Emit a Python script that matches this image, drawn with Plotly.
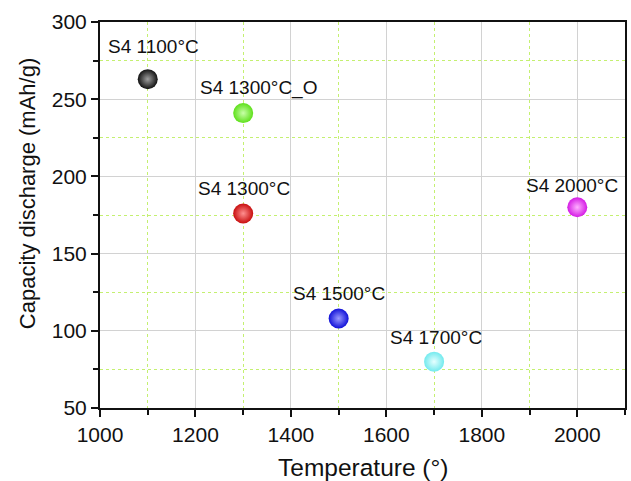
import plotly.graph_objects as go

temps = [1100, 1300, 1300, 1500, 1700, 2000]
capacity = [263, 241, 176, 108, 80, 180]
labels = ["S4 1100°C", "S4 1300°C_O", "S4 1300°C", "S4 1500°C", "S4 1700°C", "S4 2000°C"]
colors = ["#111111", "#5ee01a", "#c80e0e", "#1010d8", "#72eaee", "#d41ae4"]
highlights = ["#a0a0a0", "#c8ffa8", "#ff9090", "#9a9aff", "#e6ffff", "#ffb0ff"]
label_dx = [6, 15, 1, 0, 2, -5]
label_dy = [33, 25, 25, 25, 24, 22]

FONT = "Liberation Sans, Arial"

fig = go.Figure()
fig.add_trace(go.Scatter(
    x=temps, y=capacity, mode="markers",
    marker=dict(size=20, color=colors,
                gradient=dict(type="radial", color=highlights),
                line=dict(width=0)),
    showlegend=False, hoverinfo="skip",
))

for t, c, lab, dx, dy in zip(temps, capacity, labels, label_dx, label_dy):
    fig.add_annotation(x=t, y=c, text=lab, showarrow=False,
                       xanchor="center", yanchor="middle",
                       xshift=dx, yshift=dy,
                       font=dict(family=FONT, size=19, color="#111"))

fig.add_annotation(xref="paper", yref="paper", x=0.5, y=-0.155,
                   text="Temperature (°)", showarrow=False,
                   xanchor="center", yanchor="middle",
                   font=dict(family=FONT, size=24.5, color="#111"))
fig.add_annotation(xref="paper", yref="paper", x=-0.139, y=0.554,
                   text="Capacity discharge (mAh/g)", showarrow=False,
                   textangle=-90, xanchor="center", yanchor="middle",
                   font=dict(family=FONT, size=22, color="#111"))

axis_common = dict(
    showline=True, linecolor="#111", linewidth=2, mirror=True,
    showgrid=True, gridcolor="#d2d2d2", gridwidth=1,
    ticks="outside", ticklen=7, tickwidth=1.5, tickcolor="#111",
    tickfont=dict(family=FONT, size=21, color="#111"),
    zeroline=False, automargin=False,
)

fig.update_xaxes(
    range=[1000, 2100], dtick=200, tick0=1000,
    minor=dict(dtick=100, showgrid=True, gridcolor="#c4f070", griddash="dot",
               gridwidth=1.2, ticks="outside", ticklen=5, tickcolor="#111"),
    **axis_common,
)
fig.update_yaxes(
    range=[50, 300], dtick=50, tick0=50,
    minor=dict(dtick=25, showgrid=True, gridcolor="#c4f070", griddash="dot",
               gridwidth=1.2, ticks="outside", ticklen=5, tickcolor="#111"),
    **axis_common,
)

fig.update_layout(
    width=631, height=481,
    margin=dict(l=100, r=6, t=22, b=73),
    paper_bgcolor="white", plot_bgcolor="white",
)

fig.write_html("out.html", config={"displayModeBar": False},
               post_script="document.body.style.margin='0';document.body.style.overflow='hidden';")
